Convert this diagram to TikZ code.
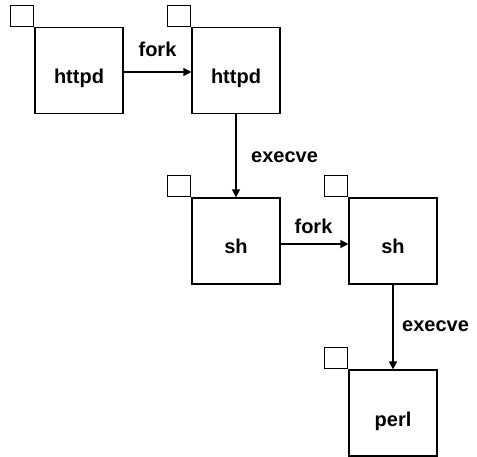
\documentclass[tikz,border=0pt]{standalone}
\usepackage{fontspec}
\setmainfont{Liberation Sans}
\usetikzlibrary{arrows.meta}
\begin{document}
\begin{tikzpicture}[x=1pt,y=-1pt,
  proc/.style={draw, line width=1.2pt, minimum width=88pt, minimum height=86pt,
    inner sep=0pt, anchor=center, text height=26pt, text depth=0pt,
    font=\fontsize{20}{24}\selectfont\bfseries},
  tagbox/.style={draw, line width=1.2pt, minimum width=23pt, minimum height=21pt,
    inner sep=0pt, anchor=south east},
  lbl/.style={font=\fontsize{20}{24}\selectfont\bfseries, inner sep=0pt},
  conn/.style={line width=1.4pt, -{Triangle[length=8pt,width=8pt]}}]
\useasboundingbox (0,0) rectangle (477,457);
% process boxes
\node[proc] (b1) at (79,70.5) {httpd};
\node[proc] (b2) at (236,70.5) {httpd};
\node[proc] (b3) at (236,241) {sh};
\node[proc] (b4) at (393,241) {sh};
\node[proc] (b5) at (393,413) {perl};
% small tag squares
\node[tagbox] (t1) at (b1.north west) {};
\node[tagbox] (t2) at (b2.north west) {};
\node[tagbox] (t3) at (b3.north west) {};
\node[tagbox] (t4) at (b4.north west) {};
\node[tagbox] (t5) at (b5.north west) {};
% connectors
\draw[conn] ([yshift=-1.5pt]b1.east) -- ([yshift=-1.5pt]b2.west);
\draw[conn] (b2.south) -- (b3.north);
\draw[conn] ([yshift=-3pt]b3.east) -- ([yshift=-3pt]b4.west);
\draw[conn] (b4.south) -- (b5.north);
% labels
\node[lbl, anchor=base] (l1) at (157.5,57) {fork};
\node[lbl, anchor=base west] (l2) at (251,163) {execve};
\node[lbl, anchor=base] (l3) at (313.5,234) {fork};
\node[lbl, anchor=base west] (l4) at (402,332) {execve};
\end{tikzpicture}
\end{document}
